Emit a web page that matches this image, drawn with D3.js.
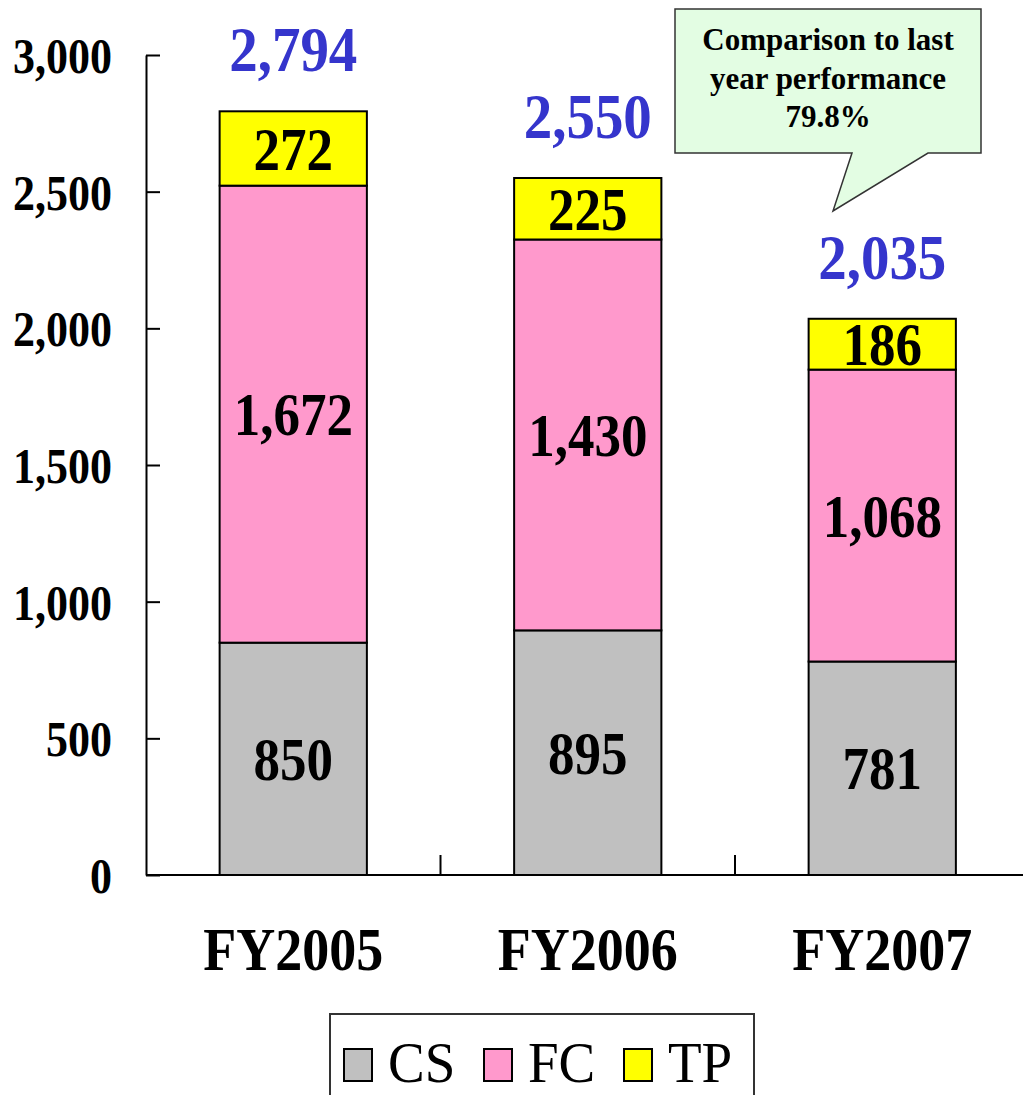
<!DOCTYPE html>
<html><head><meta charset="utf-8">
<script src="https://cdn.jsdelivr.net/npm/d3@7"></script>
<style>html,body{margin:0;padding:0;background:#fff;}svg{display:block;}</style>
</head><body>
<script>
const categories = ["FY2005", "FY2006", "FY2007"];
const seriesNames = ["CS", "FC", "TP"];
const csValues = [850, 895, 781];
const fcValues = [1672, 1430, 1068];
const tpValues = [272, 225, 186];
const totals = [2794, 2550, 2035];
const yTicks = [0, 500, 1000, 1500, 2000, 2500, 3000];
const calloutLines = ["Comparison to last", "year performance", "79.8%"];

const W = 1023, H = 1095;
const serif = "'Liberation Serif','Times New Roman',serif";
const colors = {CS: "#c0c0c0", FC: "#ff99cc", TP: "#ffff00"};

const svg = d3.select("body").append("svg").attr("width", W).attr("height", H);

const y = d3.scaleLinear().domain([0, 3000]).range([875, 55]);
const x = d3.scaleBand().domain(categories).range([146, 146 + 3 * 294.5]).padding(0);
const color = d3.scaleOrdinal().domain(seriesNames).range(seriesNames.map(s => colors[s]));

const rows = categories.map((c, i) => ({cat: c, CS: csValues[i], FC: fcValues[i], TP: tpValues[i]}));
const stack = d3.stack().keys(seriesNames)(rows);

const barW = x.bandwidth() * 0.5;
const layers = svg.append("g").selectAll("g").data(stack).join("g").attr("fill", d => color(d.key));
layers.selectAll("rect").data(d => d).join("rect")
  .attr("x", d => x(d.data.cat) + x.step() * 0.25)
  .attr("width", barW)
  .attr("y", d => y(d[1]))
  .attr("height", d => y(d[0]) - y(d[1]))
  .attr("stroke", "#000").attr("stroke-width", 2);

function scaledText(g, tx, ty, str, opts) {
  const gg = g.append("g").attr("transform", `translate(${tx},${ty})`);
  return gg.append("text").attr("transform", `scale(1,${opts.sy || 1})`)
    .attr("text-anchor", opts.anchor || "middle")
    .attr("dy", opts.dy || "0")
    .attr("font-family", serif)
    .attr("font-weight", opts.weight || "bold")
    .attr("font-size", opts.size)
    .attr("fill", opts.fill || "#000")
    .text(str);
}
const fmt = d3.format(",");
const labG = svg.append("g");
stack.forEach(layer => {
  layer.forEach(d => {
    const cx = x(d.data.cat) + x.step() / 2;
    const cy = (y(d[0]) + y(d[1])) / 2;
    scaledText(labG, cx, cy, fmt(d[1] - d[0]), {size: 53, sy: 1.17, dy: "0.34em"});
  });
});

categories.forEach((c, i) => {
  const cx = x(c) + x.step() / 2;
  scaledText(labG, cx, y(totals[i]) - 40, fmt(totals[i]), {size: 57, sy: 1.1, fill: "#3535cc"});
});

const yAxis = svg.append("g").attr("transform", "translate(146,0)")
  .call(d3.axisLeft(y).tickValues(yTicks).tickFormat(fmt).tickSize(-14).tickPadding(34).tickSizeOuter(0));
yAxis.select(".domain").attr("stroke", "#000").attr("stroke-width", 2);
yAxis.selectAll(".tick line").attr("stroke", "#000").attr("stroke-width", 2);
yAxis.selectAll(".tick text")
  .attr("font-family", serif).attr("font-weight", "bold").attr("font-size", 44)
  .attr("fill", "#000").attr("dy", "0.34em").attr("transform", "scale(1,1.17)");

svg.append("line").attr("x1", 146).attr("x2", W).attr("y1", y(0)).attr("y2", y(0))
  .attr("stroke", "#000").attr("stroke-width", 2);
svg.append("g").selectAll("line").data(categories).join("line")
  .attr("x1", c => x(c) + x.step()).attr("x2", c => x(c) + x.step())
  .attr("y1", y(0)).attr("y2", y(0) - 20)
  .attr("stroke", "#000").attr("stroke-width", 2);

categories.forEach(c => {
  scaledText(labG, x(c) + x.step() / 2, 970, c, {size: 54, sy: 1.15});
});

const cg = svg.append("g");
cg.append("path")
  .attr("d", "M675,9 H981 V153 H928 L833,211 L852,153 H675 Z")
  .attr("fill", "#e3fde3").attr("stroke", "#333").attr("stroke-width", 1.5);
calloutLines.forEach((s, i) => {
  cg.append("text").attr("x", 828).attr("y", 50 + i * 38.5)
    .attr("text-anchor", "middle").attr("font-family", serif)
    .attr("font-weight", "bold").attr("font-size", 31).attr("fill", "#000").text(s);
});

const lg = svg.append("g");
lg.append("rect").attr("x", 330).attr("y", 1014).attr("width", 424).attr("height", 100)
  .attr("fill", "#fff").attr("stroke", "#333").attr("stroke-width", 2);
seriesNames.forEach((s, i) => {
  const lx = 344 + i * 140;
  lg.append("rect").attr("x", lx).attr("y", 1049).attr("width", 28).attr("height", 32)
    .attr("fill", color(s)).attr("stroke", "#000").attr("stroke-width", 2);
  scaledText(lg, lx + 44, 1082, s, {size: 55, sy: 1.05, anchor: "start", weight: "normal"});
});
</script>
</body></html>
